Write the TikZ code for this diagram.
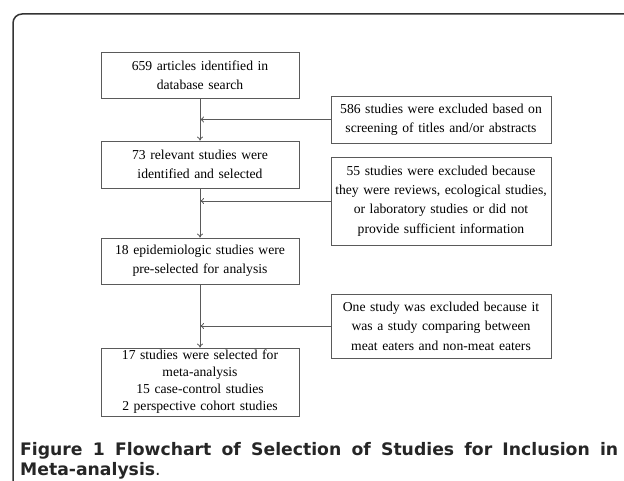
\documentclass[tikz,border=0pt]{standalone}
\usepackage{fontspec}
\setmainfont{Liberation Serif}
\newfontfamily\capfont{DejaVu Sans}
\usetikzlibrary{arrows.meta}
\definecolor{boxline}{HTML}{5A5A5A}
\definecolor{frameline}{HTML}{333333}
\tikzset{
  stepbox/.style={draw=boxline, line width=0.8bp, align=center, inner sep=2bp,
    font=\fontsize{13.7}{19.5}\selectfont, text=black},
  mainbox/.style={stepbox, minimum width=198bp, text width=194bp},
  exclbox/.style={stepbox, minimum width=218bp, text width=216bp},
  arr/.style={draw=boxline, line width=0.8bp, -{To[length=4bp,width=6bp]}},
  captext/.style={anchor=base west, inner sep=0pt, font=\capfont\fontsize{17.3}{20}\selectfont, text=black!85},
}
\begin{document}
\begin{tikzpicture}[x=1bp,y=-1bp]
\useasboundingbox (0,0) rectangle (624,481);
% frame
\draw[frameline, line width=1.5bp, rounded corners=9bp] (13,481) -- (13,14) -- (624,14);
% boxes
\node[mainbox, minimum height=46bp] (b1) at (200,75) {659 articles identified in\\database search};
\node[exclbox, minimum height=47bp] (e1) at (441,119.5) {586 studies were excluded based on\\screening of titles and/or abstracts};
\node[mainbox, minimum height=47bp] (b2) at (200,164.5) {73 relevant studies were\\identified and selected};
\node[exclbox, minimum height=88bp] (e2) at (441,201) {55 studies were excluded because\\they were reviews, ecological studies,\\or laboratory studies or did not\\provide sufficient information};
\node[mainbox, minimum height=46bp] (b3) at (200,261) {18 epidemiologic studies were\\pre-selected for analysis};
\node[exclbox, minimum height=64bp] (e3) at (441,326) {One study was excluded because it\\was a study comparing between\\meat eaters and non-meat eaters};
\node[mainbox, minimum height=68bp, font=\fontsize{13.7}{17}\selectfont] (b4) at (200,382) {17 studies were selected for\\meta-analysis\\15 case-control studies\\2 perspective cohort studies};
% connectors
\draw[arr] (b1.south) -- (b2.north);
\draw[arr] (b2.south) -- (b3.north);
\draw[arr] (b3.south) -- (b4.north);
\draw[arr] (e1.west) -- (e1.west -| b1.south);
\draw[arr] (e2.west) -- (e2.west -| b2.south);
\draw[arr] (e3.west) -- (e3.west -| b3.south);
% caption
\node[captext] (cap1) at (20,455)
  {\makebox[598bp][s]{\bfseries Figure 1 Flowchart of Selection of Studies for Inclusion in}};
\node[captext] (cap2) at (20,475)
  {\textbf{Meta-analysis}.};
\end{tikzpicture}
\end{document}
